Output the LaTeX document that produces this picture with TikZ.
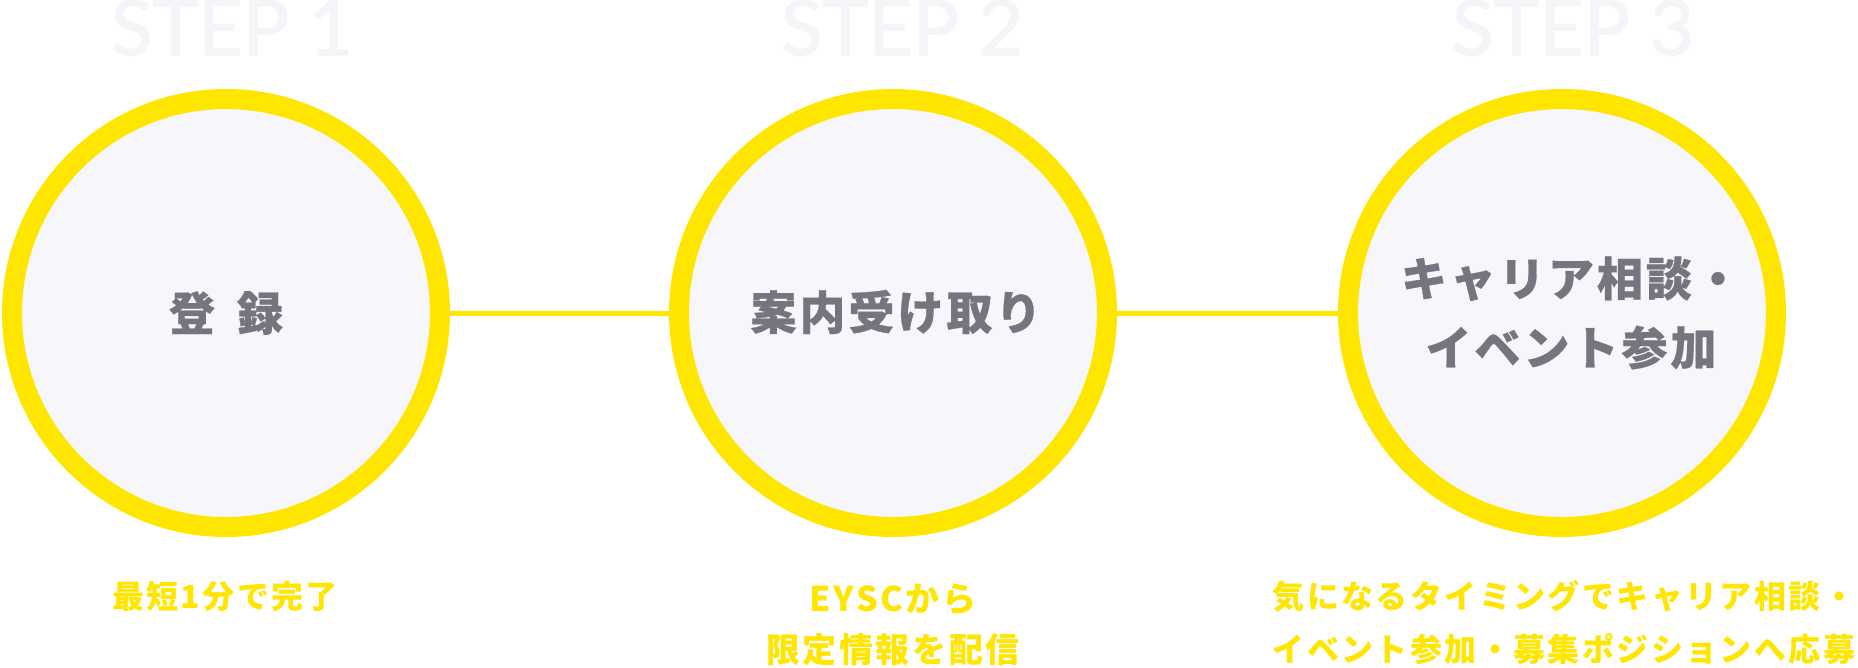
\documentclass[tikz,border=0pt]{standalone}
\usepackage{fontspec}
\newfontfamily\jp{Noto Sans CJK JP}
\newfontfamily\lato{Lato}[FakeBold=1.5]
\definecolor{ey}{HTML}{FFE600}
\definecolor{fillc}{HTML}{F7F7FB}
\definecolor{txtg}{HTML}{75757F}
\definecolor{stepc}{HTML}{F4F5F9}
\begin{document}
\begin{tikzpicture}[x=1pt,y=-1pt,
  ring/.style={circle, draw=ey, line width=20pt, fill=fillc, minimum size=428pt, inner sep=0pt},
  connector/.style={draw=ey, line width=5pt},
  steplabel/.style={anchor=base, text=stepc, inner sep=0pt, font=\lato\fontsize{77}{77}\selectfont},
  maintext/.style={text=txtg, align=center, inner sep=0pt, font=\jp\bfseries\fontsize{46}{69}\selectfont\addfontfeature{LetterSpace=6.5,FakeBold=0.6}},
  subtext/.style={text=ey, align=center, inner sep=0pt, font=\jp\bfseries\fontsize{32}{53}\selectfont\addfontfeature{LetterSpace=7.5}},
  subtextb/.style={text=ey, align=center, inner sep=0pt, font=\jp\bfseries\fontsize{34}{51}\selectfont\addfontfeature{LetterSpace=7.5}}
]
\useasboundingbox (0,0) rectangle (1858,667);
\fill[white] (0,0) rectangle (1858,667);

\node[steplabel] (s1) at (232,55) {STEP 1};
\node[steplabel] (s2) at (902,55) {STEP 2};
\node[steplabel] (s3) at (1573,55) {STEP 3};

\node[ring] (c1) at (226,313) {};
\node[ring] (c2) at (893,313) {};
\node[ring] (c3) at (1562,313) {};

\draw[connector] (c1.east) -- (c2.west);
\draw[connector] (c2.east) -- (c3.west);

\node[maintext] (t1) at (226,313) {登\hspace{22pt}録};
\node[maintext] (t2) at (896,312) {案内受け取り};
\node[maintext] (t3) at (1571,313) {キャリア相談・\\イベント参加};

\node[subtext] (b1) at (225,596) {最短1分で完了};
\node[subtextb] (b2) at (893,625) {EYSCから\\限定情報を配信};
\node[subtext] (b3) at (1564,623) {気になるタイミングでキャリア相談・\\イベント参加・募集ポジションへ応募};
\end{tikzpicture}
\end{document}
